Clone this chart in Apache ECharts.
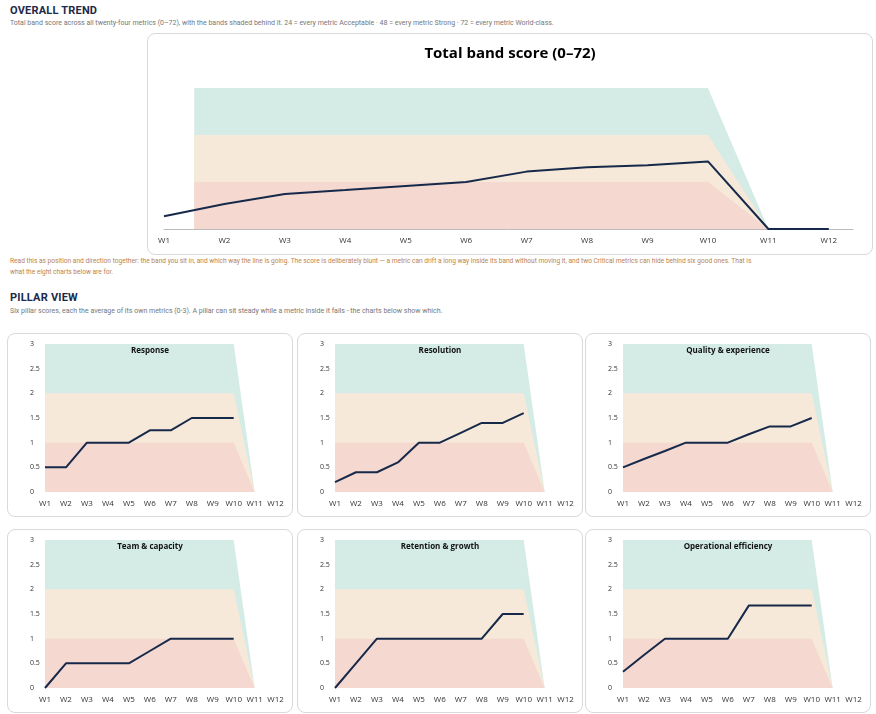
<!DOCTYPE html>
<html lang="en">
<head>
<meta charset="UTF-8">
<title>Band score trend</title>
<script src="https://cdn.jsdelivr.net/npm/echarts@6/dist/echarts.min.js"></script>
<style>
    body { margin: 0; background: #fff; font-family: Roboto, "DejaVu Sans", sans-serif; }
    .abs { position: absolute; }
    .h { font-weight: bold; font-size: 11px; color: #1c2a48; letter-spacing: 0.2px; }
    .sub { font-size: 7px; color: #777; }
    .note { font-size: 6.6px; color: #b9834f; line-height: 11px; width: 752px; }
    .card { position: absolute; border: 1px solid #d9d9d9; border-radius: 8px; background: #fff; }
</style>
</head>
<body>
<div class="abs h" style="left:10px;top:4px">OVERALL TREND</div>
<div class="abs sub" style="left:10px;top:19px">Total band score across all twenty-four metrics (0–72), with the bands shaded behind it. 24 = every metric Acceptable · 48 = every metric Strong · 72 = every metric World-class.</div>
<div class="card" id="main" style="left:147px;top:33px;width:724px;height:220px"></div>
<div class="abs note" style="left:10px;top:256px">Read this as position and direction together: the band you sit in, and which way the line is going. The score is deliberately blunt — a metric can drift a long way inside its band without moving it, and two Critical metrics can hide behind six good ones. That is what the eight charts below are for.</div>
<div class="abs h" style="left:10px;top:291px">PILLAR VIEW</div>
<div class="abs sub" style="left:10px;top:307px">Six pillar scores, each the average of its own metrics (0-3). A pillar can sit steady while a metric inside it fails - the charts below show which.</div>
<div class="card" id="p0" style="left:7px;top:333px;width:284px;height:182px"></div>
<div class="card" id="p1" style="left:297px;top:333px;width:284px;height:182px"></div>
<div class="card" id="p2" style="left:585px;top:333px;width:284px;height:182px"></div>
<div class="card" id="p3" style="left:7px;top:529px;width:284px;height:182px"></div>
<div class="card" id="p4" style="left:297px;top:529px;width:284px;height:182px"></div>
<div class="card" id="p5" style="left:585px;top:529px;width:284px;height:182px"></div>

<script>
var weeks = ['W1', 'W2', 'W3', 'W4', 'W5', 'W6', 'W7', 'W8', 'W9', 'W10', 'W11', 'W12'];
var totalScore = [6.5, 12.8, 17.9, 19.9, 22, 24, 29.3, 31.5, 32.5, 34.5, 0, 0];
var totalBandStep = 24;   // each band is 24 points wide in the total chart
var pillarBandStep = 1;   // each band is 1 point wide in the pillar charts

var pillarNames = ['Response', 'Resolution', 'Quality & experience', 'Team & capacity', 'Retention & growth', 'Operational efficiency'];
var response    = [0.5, 0.5, 1, 1, 1, 1.25, 1.25, 1.5, 1.5, 1.5];
var resolution  = [0.2, 0.4, 0.4, 0.6, 1, 1, 1.2, 1.4, 1.4, 1.6];
var quality     = [0.5, 0.67, 0.83, 1, 1, 1, 1.17, 1.33, 1.33, 1.5];
var team        = [0, 0.5, 0.5, 0.5, 0.5, 0.75, 1, 1, 1, 1];
var retention   = [0, 0.5, 1, 1, 1, 1, 1, 1, 1.5, 1.5];
var operational = [0.33, 0.67, 1, 1, 1, 1, 1.67, 1.67, 1.67, 1.67];
var pillarValues = [response, resolution, quality, team, retention, operational];

var bandColors = ['#f5d9d1', '#f6e9d9', '#d5ece6'];
var lineColor = '#17294a';

function bandPoints(startX, top) {
    // flat from startX to W10, then dropping to zero at W11
    var pts = [[startX, top]];
    for (var i = Math.ceil(startX); i <= 10; i++) if (i > startX) pts.push([i, top]);
    pts.push([11, 0]);
    return pts;
}

function bandSeries(startX, step) {
    // drawn as overlapping areas: widest (green) at the back, red in front
    return bandColors.map(function (c, k) {
        return {
            type: 'line', data: bandPoints(startX, step * (k + 1)),
            symbol: 'none', silent: true, lineStyle: { width: 0 },
            areaStyle: { color: c, opacity: 1, origin: 'start' }, z: 4 - k
        };
    });
}

function xAxisCfg(fontSize, showLine) {
    return {
        type: 'value', min: 1, max: 12.4, interval: 1,
        axisLine: { show: showLine, lineStyle: { color: '#bbb' } },
        axisTick: { show: false }, splitLine: { show: false },
        axisLabel: {
            fontSize: fontSize, color: '#333', margin: 8,
            fontFamily: 'Open Sans',
            formatter: function (v) { return (v >= 1 && v <= 12 && v % 1 === 0) ? weeks[v - 1] : ''; }
        }
    };
}

// Total chart
var main = echarts.init(document.getElementById('main'));
main.setOption({
    animation: false,
    title: { text: 'Total band score (0–72)', left: 'center', top: 7, textStyle: { fontSize: 15, fontWeight: 'bold', color: '#000', fontFamily: 'Open Sans' } },
    grid: { left: 16, right: 19, top: 54, bottom: 25 },
    xAxis: xAxisCfg(8, true),
    yAxis: { type: 'value', min: 0, max: 72, show: false },
    series: bandSeries(1.5, totalBandStep).concat([{
        type: 'line', data: totalScore.map(function (v, i) { return [i + 1, v]; }),
        symbol: 'none', lineStyle: { color: lineColor, width: 2 }, z: 10
    }])
});

// Pillar charts
pillarNames.forEach(function (name, p) {
    var ch = echarts.init(document.getElementById('p' + p));
    ch.setOption({
        animation: false,
        title: { text: name, left: 'center', top: 8, textStyle: { fontSize: 8, fontWeight: 'bold', color: '#111', fontFamily: 'Open Sans' } },
        grid: { left: 37, right: 8, top: 10, bottom: 24 },
        xAxis: xAxisCfg(8, false),
        yAxis: {
            type: 'value', min: 0, max: 3, interval: 0.5,
            axisLine: { show: false }, axisTick: { show: false }, splitLine: { show: false },
            axisLabel: { fontSize: 7, color: '#333', margin: 15, align: 'left', fontFamily: 'Open Sans' }
        },
        series: bandSeries(1, pillarBandStep).concat([{
            type: 'line', data: pillarValues[p].map(function (v, i) { return [i + 1, v]; }),
            symbol: 'none', lineStyle: { color: lineColor, width: 2 }, z: 10
        }])
    });
});
</script>
</body>
</html>
